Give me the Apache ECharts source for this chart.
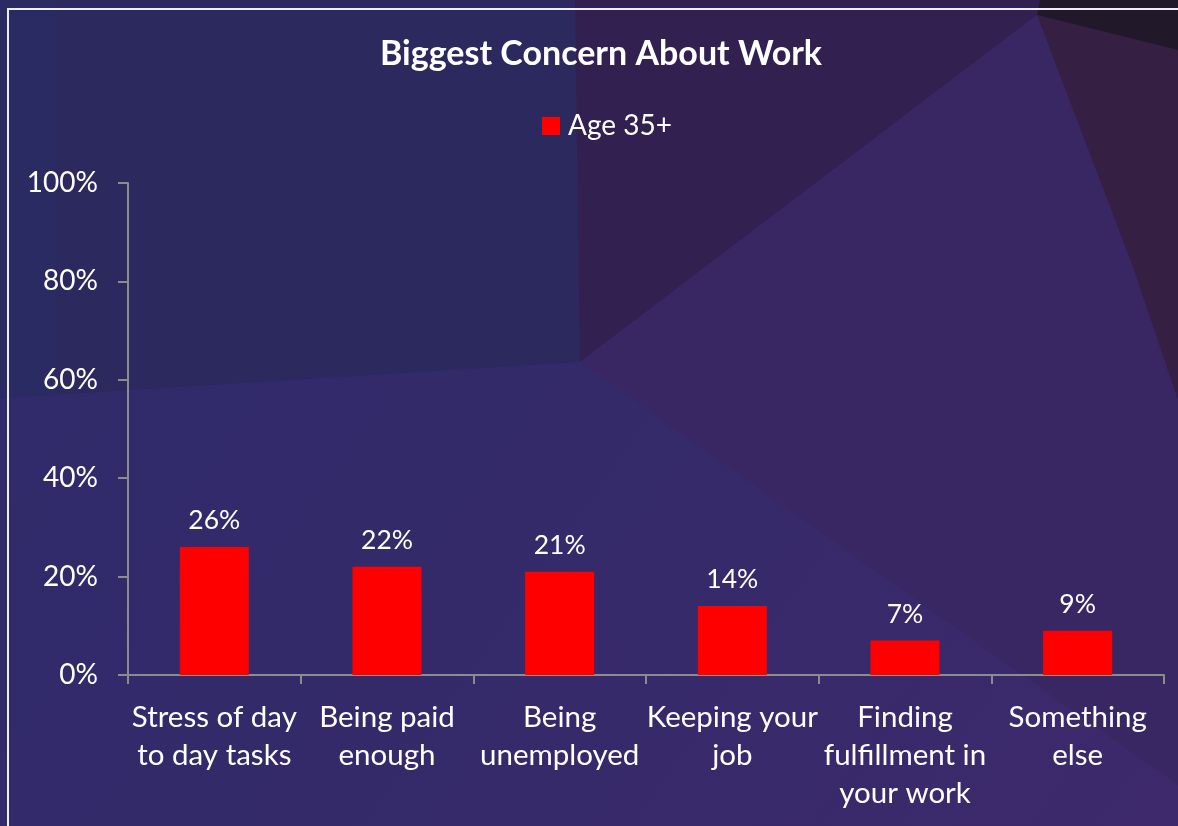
<!DOCTYPE html>
<html>
<head>
<meta charset="utf-8">
<title>Biggest Concern About Work</title>
<script src="https://cdn.jsdelivr.net/npm/echarts@6/dist/echarts.min.js"></script>
<style>
  html, body { margin: 0; padding: 0; background: #2f2a66; }
  #chart { width: 1178px; height: 826px; }
</style>
</head>
<body>
<div id="chart"></div>
<script>
// Survey answers, respondents aged 35 and over
const categories = [
  'Stress of day\nto day tasks',
  'Being paid\nenough',
  'Being\nunemployed',
  'Keeping your\njob',
  'Finding\nfulfillment in\nyour work',
  'Something\nelse'
];
const seriesName = 'Age 35+';
const values = [26, 22, 21, 14, 7, 9];
const yTicks = [0, 20, 40, 60, 80, 100];

const FONT = 'Lato, "Noto Sans", sans-serif';

// Faceted purple backdrop
function poly(points, fill) {
  return { type: 'polygon', z: -10, silent: true, shape: { points: points }, style: { fill: fill } };
}
const backdrop = [
  { type: 'rect', z: -11, silent: true, shape: { x: 0, y: 0, width: 1178, height: 826 },
    style: { fill: new echarts.graphic.LinearGradient(0, 0, 1, 1, [
      { offset: 0, color: '#2e2b6a' }, { offset: 0.5, color: '#342a6a' }, { offset: 1, color: '#3d296c' }
    ]) } },
  poly([[0, 0], [575, 0], [580, 362], [0, 398]], '#2b295d'),
  poly([[0, 0], [55, 0], [55, 395], [0, 398]], '#2b2b64'),
  poly([[575, 0], [1040, 0], [1037, 15], [580, 362]], '#312050'),
  poly([[580, 362], [1037, 15], [1133, 267], [1178, 400], [1178, 785]], '#392764'),
  poly([[1037, 15], [1178, 50], [1178, 400], [1133, 267]], '#351f42'),
  poly([[1040, 0], [1178, 0], [1178, 50], [1037, 15]], '#21182a'),
  // white frame
  { type: 'rect', z: 100, silent: true, shape: { x: 8, y: 9, width: 1200, height: 900 },
    style: { fill: null, stroke: '#f0eef6', lineWidth: 2 } }
];

const chart = echarts.init(document.getElementById('chart'), null, { renderer: 'canvas' });
chart.setOption({
  animation: false,
  backgroundColor: 'transparent',
  graphic: backdrop,
  title: {
    text: 'Biggest Concern About Work',
    left: 375,
    top: 32,
    textStyle: { color: '#ffffff', fontFamily: FONT, fontWeight: 'bold', fontSize: 34 }
  },
  legend: {
    data: [seriesName],
    left: 542,
    top: 112,
    padding: 0,
    icon: 'rect',
    itemWidth: 18,
    itemHeight: 18,
    itemGap: 10,
    textStyle: { color: '#ffffff', fontFamily: FONT, fontSize: 28, padding: [0, 0, 0, 3] }
  },
  grid: { left: 128, right: 14, top: 183, bottom: 151, containLabel: false },
  xAxis: {
    type: 'category',
    data: categories,
    axisLine: { lineStyle: { color: '#8c8c8c', width: 2 } },
    axisTick: { show: true, length: 9, lineStyle: { color: '#8c8c8c', width: 2 } },
    axisLabel: {
      color: '#ffffff', fontFamily: FONT, fontSize: 29.5, lineHeight: 38,
      margin: 23, interval: 0
    }
  },
  yAxis: {
    type: 'value',
    min: 0,
    max: 100,
    interval: 20,
    axisLine: { show: true, lineStyle: { color: '#8c8c8c', width: 2 } },
    axisTick: { show: true, length: 10, lineStyle: { color: '#8c8c8c', width: 2 } },
    splitLine: { show: false },
    axisLabel: {
      color: '#ffffff', fontFamily: FONT, fontSize: 28, margin: 30,
      formatter: function (v) { return yTicks.indexOf(v) >= 0 ? v + '%' : ''; }
    }
  },
  series: [{
    name: seriesName,
    type: 'bar',
    data: values,
    barWidth: '40%',
    itemStyle: { color: '#ff0000' },
    label: {
      show: true,
      position: 'top',
      distance: 13,
      color: '#ffffff',
      fontFamily: FONT,
      fontSize: 26.5,
      formatter: function (p) { return p.value + '%'; }
    }
  }]
});
</script>
</body>
</html>
